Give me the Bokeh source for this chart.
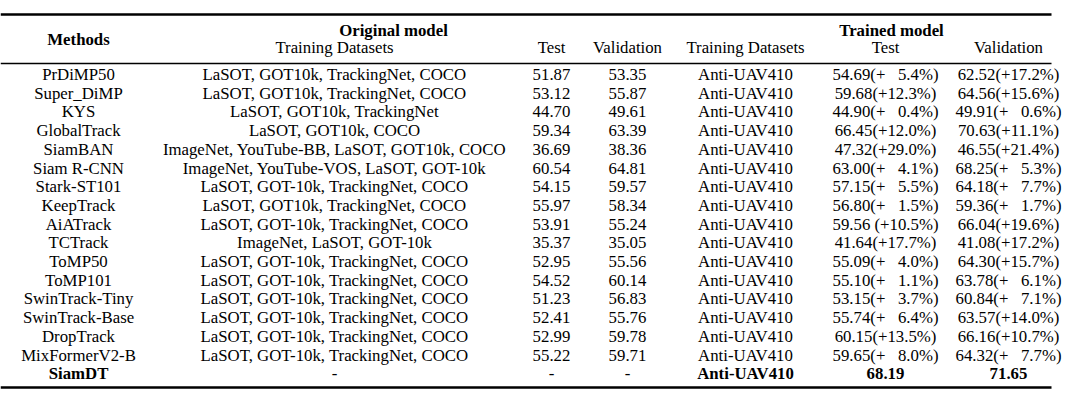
from bokeh.plotting import figure
from bokeh.models import Range1d, ColumnDataSource
from bokeh.core.properties import value
from bokeh.embed import file_html
from bokeh.resources import INLINE

methods = ["PrDiMP50", "Super_DiMP", "KYS", "GlobalTrack", "SiamBAN", "Siam R-CNN",
           "Stark-ST101", "KeepTrack", "AiATrack", "TCTrack", "ToMP50", "ToMP101",
           "SwinTrack-Tiny", "SwinTrack-Base", "DropTrack", "MixFormerV2-B", "SiamDT"]
orig_datasets = [
    "LaSOT, GOT10k, TrackingNet, COCO",
    "LaSOT, GOT10k, TrackingNet, COCO",
    "LaSOT, GOT10k, TrackingNet",
    "LaSOT, GOT10k, COCO",
    "ImageNet, YouTube-BB, LaSOT, GOT10k, COCO",
    "ImageNet, YouTube-VOS, LaSOT, GOT-10k",
    "LaSOT, GOT-10k, TrackingNet, COCO",
    "LaSOT, GOT10k, TrackingNet, COCO",
    "LaSOT, GOT-10k, TrackingNet, COCO",
    "ImageNet, LaSOT, GOT-10k",
    "LaSOT, GOT-10k, TrackingNet, COCO",
    "LaSOT, GOT-10k, TrackingNet, COCO",
    "LaSOT, GOT-10k, TrackingNet, COCO",
    "LaSOT, GOT-10k, TrackingNet, COCO",
    "LaSOT, GOT-10k, TrackingNet, COCO",
    "LaSOT, GOT-10k, TrackingNet, COCO",
    "-",
]
orig_test = [51.87, 53.12, 44.70, 59.34, 36.69, 60.54, 54.15, 55.97, 53.91, 35.37,
             52.95, 54.52, 51.23, 52.41, 52.99, 55.22, None]
orig_val = [53.35, 55.87, 49.61, 63.39, 38.36, 64.81, 59.57, 58.34, 55.24, 35.05,
            55.56, 60.14, 56.83, 55.76, 59.78, 59.71, None]
trained_dataset = ["Anti-UAV410"] * 17
trained_test = [54.69, 59.68, 44.90, 66.45, 47.32, 63.00, 57.15, 56.80, 59.56, 41.64,
                55.09, 55.10, 53.15, 55.74, 60.15, 59.65, 68.19]
test_gain = [5.4, 12.3, 0.4, 12.0, 29.0, 4.1, 5.5, 1.5, 10.5, 17.7,
             4.0, 1.1, 3.7, 6.4, 13.5, 8.0, None]
trained_val = [62.52, 64.56, 49.91, 70.63, 46.55, 68.25, 64.18, 59.36, 66.04, 41.08,
               64.30, 63.78, 60.84, 63.57, 66.16, 64.32, 71.65]
val_gain = [17.2, 15.6, 0.6, 11.1, 21.4, 5.3, 7.7, 1.7, 19.6, 17.2,
            15.7, 6.1, 7.1, 14.0, 10.7, 7.7, None]
test_gap = [""] * 8 + [" "] + [""] * 8   # AiATrack entry printed with a space

def num(v):
    return "-" if v is None else f"{v:.2f}"

def with_gain(v, g, gap=""):
    if g is None:
        return f"{v:.2f}"
    gs = f"{g:.1f}"
    if g < 10:
        gs = "\u00a0\u2007" + gs
    return f"{v:.2f}{gap}(+{gs}%)"

W, H = 1064, 392
p = figure(width=W, height=H, output_backend="svg", toolbar_location=None,
           x_range=Range1d(0, W), y_range=Range1d(H, 0), min_border=0)
p.axis.visible = False
p.grid.visible = False
p.outline_line_color = None
p.background_fill_color = "white"
p.border_fill_color = "white"

FONT = value("Liberation Serif")
FS = "16.8px"
col_x = [78, 334, 551, 627, 745, 885, 1008]
y0, dy = 74, 18.7
n = len(methods)
ys = [y0 + i * dy for i in range(n)]

cols = [
    methods,
    orig_datasets,
    [num(v) for v in orig_test],
    [num(v) for v in orig_val],
    trained_dataset,
    [with_gain(v, g, s) for v, g, s in zip(trained_test, test_gain, test_gap)],
    [with_gain(v, g) for v, g in zip(trained_val, val_gain)],
]
bold_last = [True, False, False, False, True, True, True]
for cx, texts, bl in zip(col_x, cols, bold_last):
    src = ColumnDataSource(dict(x=[cx] * (n - 1), y=ys[:-1], t=texts[:-1]))
    p.text(x="x", y="y", text="t", source=src, text_font=FONT, text_font_size=FS,
           text_align="center", text_baseline="middle", text_color="black")
    p.text(x=[cx], y=[ys[-1]], text=[texts[-1]], text_font=FONT, text_font_size=FS,
           text_align="center", text_baseline="middle", text_color="black",
           text_font_style="bold" if bl else "normal")

# header
p.text(x=[78], y=[39], text=["Methods"], text_font=FONT, text_font_size=FS,
       text_font_style="bold", text_align="center", text_baseline="middle")
p.text(x=[393, 891], y=[30, 30], text=["Original model", "Trained model"],
       text_font=FONT, text_font_size=FS, text_font_style="bold",
       text_align="center", text_baseline="middle")
p.text(x=col_x[1:], y=[47] * 6,
       text=["Training Datasets", "Test", "Validation", "Training Datasets", "Test", "Validation"],
       text_font=FONT, text_font_size=FS, text_align="center", text_baseline="middle")

# rules
p.segment(x0=[0, 0, 0], y0=[14, 63, 387], x1=[1051, 1051, 1051], y1=[14, 63, 387],
          line_color="black", line_width=[2.4, 1.4, 2.4])

open("out.html", "w").write(file_html(p, INLINE))
